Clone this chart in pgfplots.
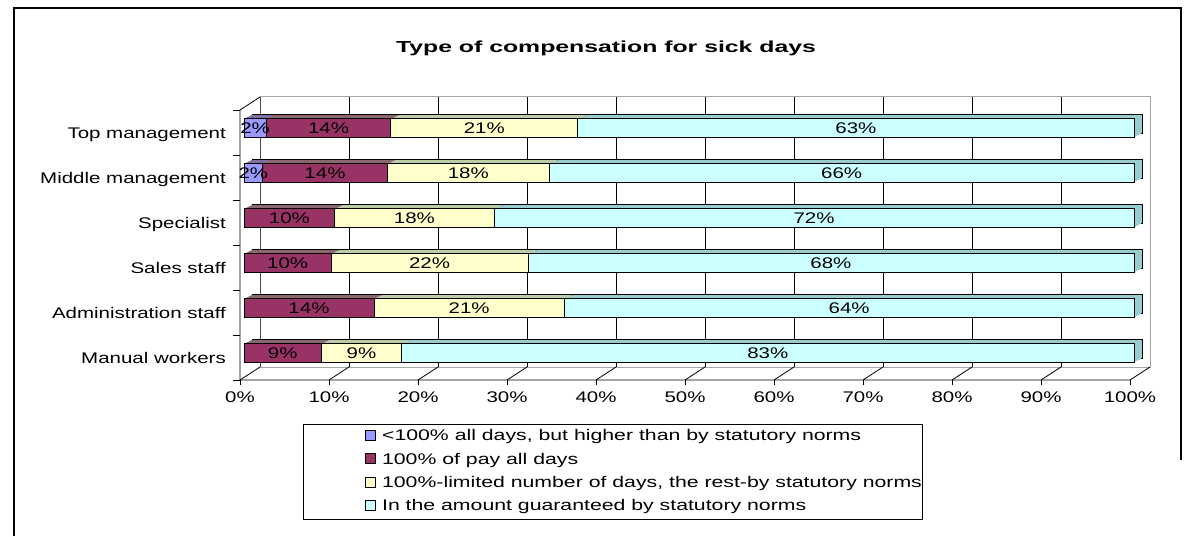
\documentclass[border=0pt]{standalone}
\usepackage{fontspec}
\setmainfont{Liberation Sans}[FakeStretch=1.33]
\newfontfamily\titlefont{Liberation Sans}[FakeStretch=1.55]
\newfontfamily\legfont{Liberation Sans}[FakeStretch=1.38]
\usepackage{pgfplots}
\usepackage{pgfplotstable}
\pgfplotsset{compat=1.18}
\newcommand\lbl{\fontsize{15.4}{18}\selectfont}
\definecolor{blueF}{HTML}{9999FF}
\definecolor{blueT}{HTML}{7070CC}
\definecolor{marF}{HTML}{993366}
\definecolor{marT}{HTML}{6E2449}
\definecolor{yelF}{HTML}{FFFFCC}
\definecolor{yelT}{HTML}{CCCC99}
\definecolor{cyaF}{HTML}{CCFFFF}
\definecolor{cyaT}{HTML}{99CCCC}

% y: 5 = Top management ... 0 = Manual workers
% a: <100% all days, b: 100% of pay all days, c: 100%-limited number of days, d: statutory norms
\pgfplotstableread{
y a b c d la lb lc ld
5 2.5 14.0 21.0 62.5 2 14 21 63
4 2.1 14.0 18.2 65.7 2 14 18 66
3 0.0 10.2 17.9 71.9 0 10 18 72
2 0.0 9.8 22.1 68.1 0 10 22 68
1 0.0 14.6 21.4 64.0 0 14 21 64
0 0.0 8.7 9.0 82.3 0 9 9 83
}\data

\pgfplotsset{
  mybar/.style={xbar, bar width=18.5pt, bar shift=0pt, forget plot},
  lab/.style={draw=none, mark=none, forget plot,
    nodes near coords={\pgfmathprintnumber{\pgfplotspointmeta}\%},
    point meta=explicit,
    every node near coord/.append style={anchor=center, font=\lbl, inner sep=0pt, xshift=4pt, yshift=4.5pt}},
}

\begin{document}
\begin{tikzpicture}[x=1pt,y=1pt]
\path[use as bounding box] (0,0) rectangle (1185,536);
% outer frame
\draw[line width=2pt] (14,0) -- (14,528) -- (1181,528) -- (1181,76);
% title
\node[font=\titlefont\bfseries\fontsize{16}{19}\selectfont] at (606,487.5) {Type of compensation for sick days};
% back wall
\draw[gray!70, line width=1pt] (260,169) rectangle (1150,439);
\foreach \k in {1,...,9} \draw[black, line width=0.8pt] ({260+89*\k},169) -- ({260+89*\k},439);
\draw[gray!60!black, line width=0.8pt] (260,169) -- (260,439);
% left side wall
\draw[black, line width=0.8pt] (240,156) -- (240,426) -- (260,439);
% floor
\draw[black, line width=0.8pt] (240,156) -- (1130,156) -- (1150,169);
\foreach \k in {0,...,9} \draw[black, line width=0.8pt] ({240+89*\k},156) -- ({260+89*\k},169);
\foreach \k in {0,...,10} \draw[black, line width=0.8pt] ({240+89*\k},156) -- ({240+89*\k},151);
\foreach \j in {0,...,6} \draw[black, line width=0.8pt] (233,{156+45*\j}) -- (240,{156+45*\j});

\begin{axis}[
  at={(240pt,156pt)}, anchor=south west,
  scale only axis, width=890pt, height=270pt,
  xmin=0, xmax=100, ymin=-0.5, ymax=5.5,
  clip=false,
  axis line style={draw=none}, tick style={draw=none},
  /pgf/number format/assume math mode=true,
  xtick={0,10,...,100},
  xticklabel={\pgfmathprintnumber{\tick}\%},
  xticklabel style={font=\lbl, inner sep=0pt, anchor=north, yshift=-12pt},
  ytick={0,...,5},
  yticklabels={Manual workers, Administration staff, Sales staff, Specialist, Middle management, Top management},
  yticklabel style={font=\lbl, inner sep=0pt, anchor=base east, xshift=-14pt, yshift=-5.5pt},
  legend style={at={(0.0708,-0.162)}, anchor=north west, draw=black, line width=0.8pt,
    font=\legfont\lbl, inner xsep=0pt, inner ysep=5.5pt, row sep=8.9pt,
    cells={anchor=base west},
    nodes={inner sep=0pt, text height=11pt, text depth=3.5pt},
    /tikz/every odd column/.append style={column sep=7pt},
    /tikz/every even column/.append style={column sep=2pt}},
  legend image code/.code={\path (-61pt,0pt); \draw[#1, draw=black, line width=0.6pt] (0pt,0.5pt) rectangle (10pt,10.5pt);},
]
% depth (back face with outline)
\addplot[mybar, fill=cyaT, draw=black, line width=0.8pt, xshift=12pt, yshift=8.5pt] table[x expr=\thisrow{a}+\thisrow{b}+\thisrow{c}+\thisrow{d}, y=y]{\data};
\addplot[mybar, fill=yelT, draw=black, line width=0.8pt, xshift=12pt, yshift=8.5pt] table[x expr=\thisrow{a}+\thisrow{b}+\thisrow{c}, y=y]{\data};
\addplot[mybar, fill=marT, draw=black, line width=0.8pt, xshift=12pt, yshift=8.5pt] table[x expr=\thisrow{a}+\thisrow{b}, y=y]{\data};
\addplot[mybar, fill=blueT, draw=black, line width=0.8pt, xshift=12pt, yshift=8.5pt, restrict x to domain=0.5:200] table[x expr=\thisrow{a}, y=y]{\data};
% depth extrusion
\pgfplotsinvokeforeach{7,6,5,4,3,2,1}{
\addplot[mybar, fill=cyaT, draw=none, xshift={(4+#1)*1pt}, yshift={(4.5+0.5*#1)*1pt}] table[x expr=\thisrow{a}+\thisrow{b}+\thisrow{c}+\thisrow{d}, y=y]{\data};
\addplot[mybar, fill=yelT, draw=none, xshift={(4+#1)*1pt}, yshift={(4.5+0.5*#1)*1pt}] table[x expr=\thisrow{a}+\thisrow{b}+\thisrow{c}, y=y]{\data};
\addplot[mybar, fill=marT, draw=none, xshift={(4+#1)*1pt}, yshift={(4.5+0.5*#1)*1pt}] table[x expr=\thisrow{a}+\thisrow{b}, y=y]{\data};
\addplot[mybar, fill=blueT, draw=none, xshift={(4+#1)*1pt}, yshift={(4.5+0.5*#1)*1pt}, restrict x to domain=0.5:200] table[x expr=\thisrow{a}, y=y]{\data};
}
% front faces
\addplot[mybar, fill=cyaF, draw=black, line width=0.8pt, xshift=4pt, yshift=4.5pt] table[x expr=\thisrow{a}+\thisrow{b}+\thisrow{c}+\thisrow{d}, y=y]{\data};
\addplot[mybar, fill=yelF, draw=black, line width=0.8pt, xshift=4pt, yshift=4.5pt] table[x expr=\thisrow{a}+\thisrow{b}+\thisrow{c}, y=y]{\data};
\addplot[mybar, fill=marF, draw=black, line width=0.8pt, xshift=4pt, yshift=4.5pt] table[x expr=\thisrow{a}+\thisrow{b}, y=y]{\data};
\addplot[mybar, fill=blueF, draw=black, line width=0.8pt, xshift=4pt, yshift=4.5pt, restrict x to domain=0.5:200] table[x expr=\thisrow{a}, y=y]{\data};
% value labels
\addplot[lab, restrict x to domain=0.5:200] table[x expr=\thisrow{a}/2, y=y, meta=la]{\data};
\addplot[lab] table[x expr=\thisrow{a}+\thisrow{b}/2, y=y, meta=lb]{\data};
\addplot[lab] table[x expr=\thisrow{a}+\thisrow{b}+\thisrow{c}/2, y=y, meta=lc]{\data};
\addplot[lab] table[x expr=\thisrow{a}+\thisrow{b}+\thisrow{c}+\thisrow{d}/2, y=y, meta=ld]{\data};
% legend
\addlegendimage{fill=blueF}
\addlegendentry{<100\% all days, but higher than by statutory norms}
\addlegendimage{fill=marF}
\addlegendentry{100\% of pay all days}
\addlegendimage{fill=yelF}
\addlegendentry{100\%-limited number of days, the rest-by statutory norms}
\addlegendimage{fill=cyaF}
\addlegendentry{In the amount guaranteed by statutory norms}
\end{axis}
\end{tikzpicture}
\end{document}
